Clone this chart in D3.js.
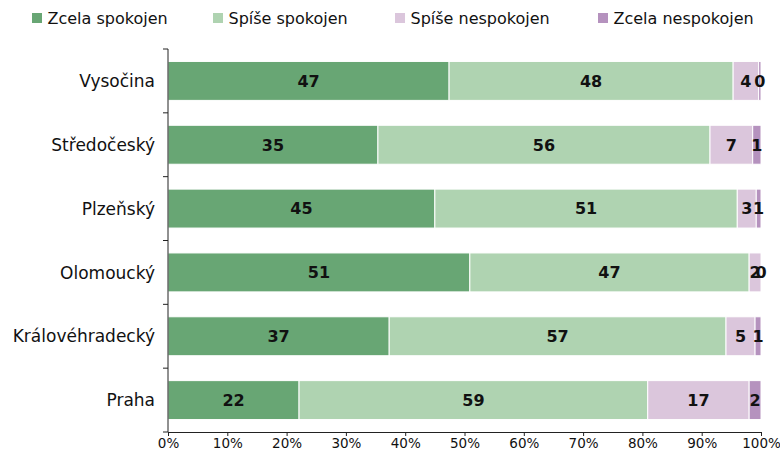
<!DOCTYPE html>
<html>
<head>
<meta charset="utf-8">
<script src="https://cdn.jsdelivr.net/npm/d3@7"></script>
<style>
  body { margin: 0; background: #fff; }
  svg { display: block; }
</style>
</head>
<body>
<svg id="chart" width="780" height="458"></svg>
<script>
// Satisfaction by region, shares in percent
const regions = ["Vysočina", "Středočeský", "Plzeňský", "Olomoucký", "Královéhradecký", "Praha"];
const seriesNames = ["Zcela spokojen", "Spíše spokojen", "Spíše nespokojen", "Zcela nespokojen"];
const zcelaSpokojen   = [47.4, 35.4, 45.0, 50.9, 37.3, 22.1];
const spiseSpokojen   = [47.9, 56.0, 51.0, 47.1, 56.8, 58.8];
const spiseNespokojen = [4.3, 7.2, 3.2, 2.0, 4.9, 17.1];
const zcelaNespokojen = [0.4, 1.4, 0.8, 0.0, 1.0, 2.0];
const colors = ["#68a674", "#afd3b1", "#dbc6dc", "#b592be"];
const xTicks = [0, 10, 20, 30, 40, 50, 60, 70, 80, 90, 100];

const rows = regions.map((r, i) => ({
  region: r,
  [seriesNames[0]]: zcelaSpokojen[i],
  [seriesNames[1]]: spiseSpokojen[i],
  [seriesNames[2]]: spiseNespokojen[i],
  [seriesNames[3]]: zcelaNespokojen[i]
}));

const svg = d3.select("#chart");
const margin = { left: 168, right: 19, top: 49, bottom: 26 };
const W = 780, H = 458;
const FONT = "'DejaVu Sans', Verdana, sans-serif";

const x = d3.scaleLinear().domain([0, 100]).range([margin.left, W - margin.right]);
const y = d3.scaleBand().domain(regions).range([margin.top, H - margin.bottom]).paddingInner(0.39).paddingOuter(0.195);
const color = d3.scaleOrdinal().domain(seriesNames).range(colors);

const stacked = d3.stack().keys(seriesNames)(rows);

const layers = svg.append("g").selectAll("g").data(stacked).join("g")
  .attr("fill", d => color(d.key));

layers.selectAll("rect").data(d => d).join("rect")
  .attr("x", d => x(d[0]))
  .attr("y", d => y(d.data.region))
  .attr("width", d => Math.max(0, x(d[1]) - x(d[0])))
  .attr("height", y.bandwidth())
  .attr("stroke", "#fff")
  .attr("stroke-width", 1);

// value labels centred in each segment
const labels = svg.append("g")
  .attr("font-family", FONT)
  .attr("font-weight", "bold")
  .attr("font-size", 16)
  .attr("fill", "#111")
  .attr("text-anchor", "middle");

stacked.forEach(layer => {
  layer.forEach(d => {
    labels.append("text")
      .attr("x", (x(d[0]) + x(d[1])) / 2)
      .attr("y", y(d.data.region) + y.bandwidth() / 2)
      .attr("dy", "0.36em")
      .text(d3.format(".0f")(d[1] - d[0]));
  });
});

// category axis: line, ticks between bands, labels
const band = y.step();
const yAxisG = svg.append("g");
yAxisG.append("line")
  .attr("x1", x(0)).attr("x2", x(0))
  .attr("y1", margin.top).attr("y2", H - margin.bottom)
  .attr("stroke", "#222");
d3.range(regions.length + 1).forEach(i => {
  const yy = margin.top + i * band;
  yAxisG.append("line")
    .attr("x1", x(0) - 5).attr("x2", x(0))
    .attr("y1", yy).attr("y2", yy)
    .attr("stroke", "#222");
});
yAxisG.selectAll("text").data(regions).join("text")
  .attr("x", x(0) - 13)
  .attr("y", d => y(d) + y.bandwidth() / 2)
  .attr("dy", "0.36em")
  .attr("text-anchor", "end")
  .attr("font-family", FONT)
  .attr("font-size", 17)
  .attr("fill", "#111")
  .text(d => d);

// percentage axis
const xAxis = d3.axisBottom(x).tickValues(xTicks).tickFormat(d => d + "%").tickSizeOuter(0).tickSize(4).tickPadding(2);
const xg = svg.append("g")
  .attr("transform", `translate(0,${H - margin.bottom})`)
  .call(xAxis);
xg.attr("font-size", null).attr("font-family", null);
xg.select(".domain").attr("stroke", "#222");
xg.selectAll(".tick line").attr("stroke", "#222");
xg.selectAll(".tick text")
  .style("font-family", FONT)
  .style("font-size", "13.5px")
  .attr("fill", "#111");

// legend
const legendX = [32, 213, 395, 598];
const legend = svg.append("g").selectAll("g").data(seriesNames).join("g")
  .attr("transform", (d, i) => `translate(${legendX[i]},18)`);
legend.append("rect")
  .attr("x", 0).attr("y", -5).attr("width", 10).attr("height", 10)
  .attr("fill", d => color(d));
legend.append("text")
  .attr("x", 15.5).attr("dy", "0.36em")
  .attr("font-family", FONT)
  .attr("font-size", 16)
  .attr("fill", "#111")
  .text(d => d);
</script>
</body>
</html>
